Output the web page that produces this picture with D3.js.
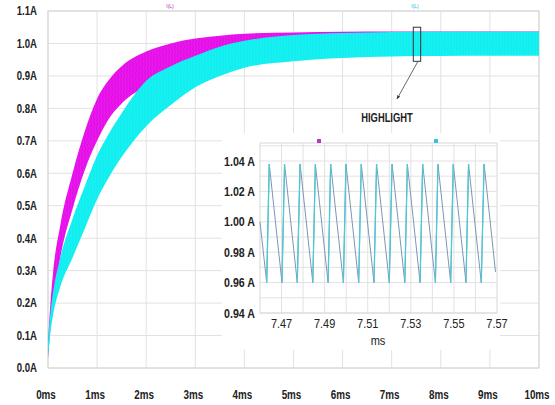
<!DOCTYPE html>
<html>
<head>
<meta charset="utf-8">
<script src="https://cdn.jsdelivr.net/npm/d3@7"></script>
<style>
  body { margin: 0; background: #fff; }
  svg { display: block; }
</style>
</head>
<body>
<div id="chart"></div>
<script>
// main trace envelopes (ms, A)
var timeMs = [0, 0.05, 0.1, 0.25, 0.5, 0.75, 1.0, 1.25, 1.5, 2.0, 2.5, 3.0, 3.5, 4, 5, 6, 7, 8, 9, 10];
var magUpper = [0.08, 0.2, 0.29, 0.44, 0.60, 0.73, 0.83, 0.89, 0.93, 0.975, 1.0, 1.015, 1.024, 1.03, 1.034, 1.036, 1.037, 1.037, 1.037, 1.037];
var magLower = [0.03, 0.12, 0.19, 0.34, 0.49, 0.61, 0.70, 0.77, 0.815, 0.87, 0.91, 0.94, 0.955, 0.964, 0.968, 0.97, 0.97, 0.97, 0.97, 0.97];
var cyaUpper = [0.08, 0.17, 0.23, 0.34, 0.46, 0.56, 0.655, 0.725, 0.785, 0.885, 0.93, 0.962, 0.99, 1.008, 1.026, 1.032, 1.035, 1.036, 1.036, 1.036];
var cyaLower = [0.03, 0.11, 0.16, 0.25, 0.34, 0.43, 0.52, 0.59, 0.65, 0.745, 0.81, 0.865, 0.90, 0.925, 0.945, 0.955, 0.96, 0.961, 0.962, 0.962];

var xTicks = [0, 1, 2, 3, 4, 5, 6, 7, 8, 9, 10];
var yTicks = [0, 0.1, 0.2, 0.3, 0.4, 0.5, 0.6, 0.7, 0.8, 0.9, 1.0, 1.1];

// zoomed window 7.46 .. 7.57 ms (troughs and peaks of the ripple)
var zoomTime = [7.46, 7.4631, 7.4643, 7.4702, 7.4714, 7.4773, 7.4786, 7.4845, 7.4857, 7.4916, 7.4928,
  7.4987, 7.4999, 7.5058, 7.5070, 7.5129, 7.5141, 7.5200, 7.5213, 7.5272, 7.5284, 7.5343, 7.5355,
  7.5414, 7.5426, 7.5485, 7.5497, 7.5556, 7.5568, 7.5627, 7.5640, 7.5693];
var zoomAmp = [1.0, 0.960, 1.038, 0.960, 1.038, 0.960, 1.038, 0.960, 1.038, 0.960, 1.038,
  0.960, 1.038, 0.960, 1.038, 0.960, 1.038, 0.960, 1.038, 0.960, 1.038, 0.960, 1.038,
  0.960, 1.038, 0.960, 1.038, 0.960, 1.038, 0.960, 1.038, 0.967];
var zoomXTicks = [7.47, 7.49, 7.51, 7.53, 7.55, 7.57];
var zoomXGrid = [7.47, 7.48, 7.49, 7.50, 7.51, 7.52, 7.53, 7.54, 7.55, 7.56];
var zoomYTicks = [0.94, 0.96, 0.98, 1.00, 1.02, 1.04];
var zoomYGrid = [0.94, 0.95, 0.96, 0.97, 0.98, 0.99, 1.00, 1.01, 1.02, 1.03, 1.04, 1.05];

var width = 555, height = 405;
var fontFamily = "'Liberation Sans', Arial, sans-serif";
var gridColor = "#e2e2e2";
var magColor = "#f014f0";
var cyaColor = "#14f2f2";

// squeeze text horizontally to look like the condensed font of the original
function narrow(sel, k) {
  sel.each(function () {
    var len = this.getComputedTextLength();
    d3.select(this).attr("textLength", len * k).attr("lengthAdjust", "spacingAndGlyphs");
  });
}

var svg = d3.select("#chart").append("svg")
  .attr("width", width)
  .attr("height", height);

var defs = svg.append("defs");
var magPat = defs.append("pattern").attr("id", "magTex")
  .attr("width", 3).attr("height", 6).attr("patternUnits", "userSpaceOnUse");
magPat.append("rect").attr("width", 3).attr("height", 6).attr("fill", magColor);
magPat.append("line").attr("x1", 0.5).attr("x2", 1.5).attr("y1", 0).attr("y2", 6)
  .attr("stroke", "#a010b8").attr("stroke-width", 0.8).attr("opacity", 0.45);
var cyaPat = defs.append("pattern").attr("id", "cyaTex")
  .attr("width", 3).attr("height", 6).attr("patternUnits", "userSpaceOnUse");
cyaPat.append("rect").attr("width", 3).attr("height", 6).attr("fill", cyaColor);
cyaPat.append("line").attr("x1", 0.5).attr("x2", 1.5).attr("y1", 0).attr("y2", 6)
  .attr("stroke", "#10c8e0").attr("stroke-width", 0.7).attr("opacity", 0.35);

var x = d3.scaleLinear().domain([0, 10]).range([48, 539]);
var y = d3.scaleLinear().domain([0, 1.1]).range([368, 11]);

// grid
svg.append("g").selectAll("line.vg").data(xTicks).enter().append("line")
  .attr("x1", function (d) { return x(d); }).attr("x2", function (d) { return x(d); })
  .attr("y1", y(1.1)).attr("y2", y(0))
  .attr("stroke", gridColor).attr("stroke-width", 1);
svg.append("g").selectAll("line.hg").data(yTicks).enter().append("line")
  .attr("x1", x(0)).attr("x2", x(10))
  .attr("y1", function (d) { return y(d); }).attr("y2", function (d) { return y(d); })
  .attr("stroke", gridColor).attr("stroke-width", 1);
svg.append("rect")
  .attr("x", x(0)).attr("y", y(1.1))
  .attr("width", x(10) - x(0)).attr("height", y(0) - y(1.1))
  .attr("fill", "none").attr("stroke", "#d4d4d4");

// bands
function band(lo, hi) {
  var rows = timeMs.map(function (t, i) { return { t: t, lo: lo[i], hi: hi[i] }; });
  return d3.area().curve(d3.curveMonotoneX)
    .x(function (d) { return x(d.t); })
    .y0(function (d) { return y(d.lo); })
    .y1(function (d) { return y(d.hi); })(rows);
}
svg.append("path").attr("d", band(magLower, magUpper)).attr("fill", "url(#magTex)");
svg.append("path").attr("d", band(cyaLower, cyaUpper)).attr("fill", "url(#cyaTex)");

// axis labels
svg.append("g").selectAll("text").data(yTicks).enter().append("text")
  .attr("x", 37).attr("y", function (d) { return y(d); })
  .attr("dy", "0.36em").attr("text-anchor", "end")
  .attr("font-family", fontFamily).attr("font-weight", "bold").attr("font-size", 12)
  .attr("fill", "#222")
  .text(function (d) { return d.toFixed(1) + "A"; })
  .call(narrow, 0.8);
svg.append("g").selectAll("text").data(xTicks).enter().append("text")
  .attr("x", function (d) { return x(d) - 2; }).attr("y", 399)
  .attr("text-anchor", "middle")
  .attr("font-family", fontFamily).attr("font-weight", "bold").attr("font-size", 12)
  .attr("fill", "#222")
  .text(function (d) { return d + "ms"; })
  .call(narrow, 0.82);

// trace tags
svg.append("text").attr("x", 170).attr("y", 8).attr("text-anchor", "middle")
  .attr("font-family", fontFamily).attr("font-size", 5).attr("fill", "#c020c0").text("I(L)");
svg.append("text").attr("x", 415).attr("y", 8).attr("text-anchor", "middle")
  .attr("font-family", fontFamily).attr("font-size", 5).attr("fill", "#20b8d0").text("I(L)");

// highlight box + arrow
var hx0 = x(7.46), hx1 = x(7.57);
svg.append("rect")
  .attr("x", hx0 - 1).attr("y", y(1.05))
  .attr("width", hx1 - hx0 + 2).attr("height", y(0.945) - y(1.05))
  .attr("fill", "none").attr("stroke", "#333").attr("stroke-width", 1);
defs.append("marker").attr("id", "arr").attr("viewBox", "0 0 10 10")
  .attr("refX", 9).attr("refY", 5).attr("markerWidth", 5).attr("markerHeight", 5)
  .attr("orient", "auto")
  .append("path").attr("d", "M0,1 L10,5 L0,9 Z").attr("fill", "#333");
svg.append("line")
  .attr("x1", (hx0 + hx1) / 2 + 1).attr("y1", y(0.945))
  .attr("x2", 397).attr("y2", 99)
  .attr("stroke", "#444").attr("stroke-width", 0.8)
  .attr("marker-end", "url(#arr)");
svg.append("text").attr("x", 387).attr("y", 122).attr("text-anchor", "middle")
  .attr("font-family", fontFamily).attr("font-weight", "bold").attr("font-size", 12)
  .attr("fill", "#222").text("HIGHLIGHT")
  .call(narrow, 0.78);

// inset
svg.append("rect").attr("x", 222).attr("y", 133).attr("width", 278).attr("height", 217)
  .attr("fill", "#fff");

var xi = d3.scaleLinear().domain([7.46, 7.57]).range([260, 497]);
var yi = d3.scaleLinear().domain([0.94, 1.04]).range([313, 161]);
var inset = svg.append("g");
var iTop = 143;

inset.selectAll("line.vg").data(zoomXGrid).enter().append("line")
  .attr("x1", function (d) { return xi(d); }).attr("x2", function (d) { return xi(d); })
  .attr("y1", iTop).attr("y2", yi(0.94))
  .attr("stroke", gridColor);
inset.selectAll("line.hg").data(zoomYGrid).enter().append("line")
  .attr("x1", xi(7.46)).attr("x2", xi(7.57))
  .attr("y1", function (d) { return yi(d); }).attr("y2", function (d) { return yi(d); })
  .attr("stroke", gridColor);
inset.append("rect")
  .attr("x", xi(7.46)).attr("y", iTop)
  .attr("width", xi(7.57) - xi(7.46)).attr("height", yi(0.94) - iTop)
  .attr("fill", "none").attr("stroke", "#d8d8d8");

var zoomRows = zoomTime.map(function (t, i) { return { t: t, a: zoomAmp[i] }; });
var zoomLine = d3.line()
  .x(function (d) { return xi(d.t); })
  .y(function (d) { return yi(d.a); });
inset.append("path").attr("d", zoomLine(zoomRows))
  .attr("fill", "none").attr("stroke", "#7f95b4").attr("stroke-width", 1);
// rising edges in cyan
var rises = [];
zoomRows.forEach(function (d, i) {
  if (i > 0 && d.a > zoomRows[i - 1].a) rises.push([zoomRows[i - 1], d]);
});
inset.selectAll("path.rise").data(rises).enter().append("path")
  .attr("d", function (d) { return zoomLine(d); })
  .attr("fill", "none").attr("stroke", "#4cc9d6").attr("stroke-width", 1.3);

inset.selectAll("text.yl").data(zoomYTicks).enter().append("text")
  .attr("x", 255).attr("y", function (d) { return yi(d); })
  .attr("dy", "0.36em").attr("text-anchor", "end")
  .attr("font-family", fontFamily).attr("font-weight", "bold").attr("font-size", 12.5)
  .attr("fill", "#222")
  .text(function (d) { return d.toFixed(2) + " A"; })
  .call(narrow, 0.85);
inset.selectAll("text.xl").data(zoomXTicks).enter().append("text")
  .attr("x", function (d) { return xi(d); }).attr("y", 328)
  .attr("text-anchor", "middle")
  .attr("font-family", fontFamily).attr("font-size", 13)
  .attr("fill", "#222")
  .text(function (d) { return d.toFixed(2); })
  .call(narrow, 0.84);
inset.append("text").attr("x", 378).attr("y", 345).attr("text-anchor", "middle")
  .attr("font-family", fontFamily).attr("font-size", 13).attr("fill", "#222").text("ms")
  .call(narrow, 0.85);

inset.append("rect").attr("x", 317).attr("y", 139).attr("width", 4).attr("height", 4)
  .attr("fill", "#b040c0");
inset.append("rect").attr("x", 434).attr("y", 139).attr("width", 4).attr("height", 4)
  .attr("fill", "#30c8d8");
</script>
</body>
</html>
